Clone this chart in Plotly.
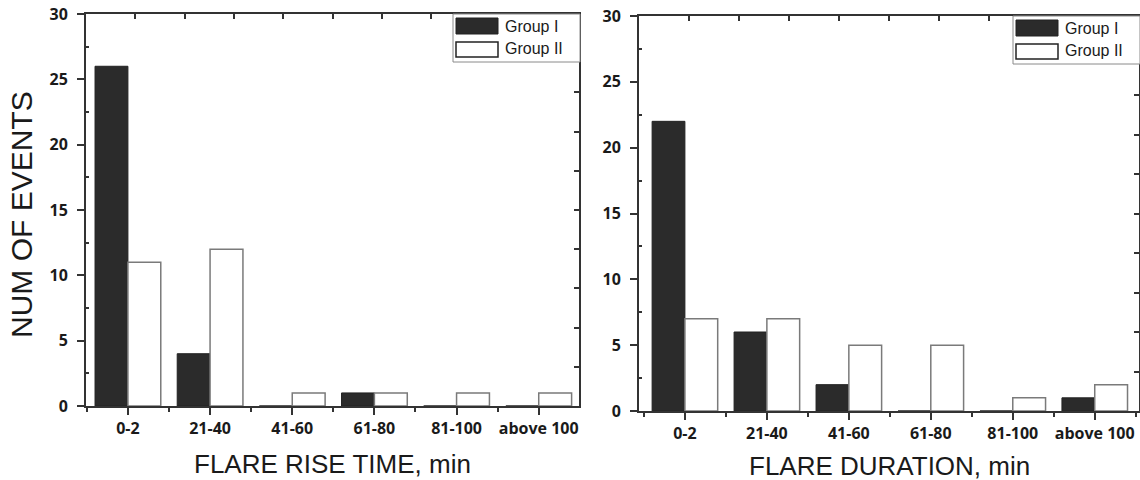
import plotly.graph_objects as go

# ---------------- data ----------------
categories = ["0-2", "21-40", "41-60", "61-80", "81-100", "above 100"]
series_names = ["Group I", "Group II"]
rise_group1 = [26, 4, 0, 1, 0, 0]
rise_group2 = [11, 12, 1, 1, 1, 1]
dur_group1 = [22, 6, 2, 0, 0, 1]
dur_group2 = [7, 7, 5, 5, 1, 2]
y_tick_vals = [0, 5, 10, 15, 20, 25, 30]
x_titles = ["FLARE RISE TIME, min", "FLARE DURATION, min"]
y_title = "NUM OF EVENTS"

# ---------------- layout constants ----------------
W, H = 1140, 480
panels = [(86, 14, 579, 406), (639, 16, 1139, 411)]  # left, top, right, bottom (px)
x_ranges = [[-0.51, 5.49], [-0.56, 5.54]]
DARK = "#2b2b2b"
AXC = "#333333"
TXT = "#1a1a1a"
TICK_FONT = dict(family="Open Sans", size=16, color=TXT, weight=700)
TITLE_FAMILY = "Liberation Sans"

idx = list(range(len(categories)))

fig = go.Figure()
data_sets = [(rise_group1, rise_group2), (dur_group1, dur_group2)]
for p, (g1, g2) in enumerate(data_sets):
    xa = "x" if p == 0 else "x2"
    ya = "y" if p == 0 else "y2"
    fig.add_trace(go.Bar(x=idx, y=g1, name=series_names[0], xaxis=xa, yaxis=ya,
                         offsetgroup="g1", showlegend=False,
                         marker=dict(color=DARK, line=dict(color="#222222", width=1))))
    fig.add_trace(go.Bar(x=idx, y=g2, name=series_names[1], xaxis=xa, yaxis=ya,
                         offsetgroup="g2", showlegend=False,
                         marker=dict(color="white", line=dict(color="#7a7a7a", width=1.5))))
    # empty helper trace so the mirrored frame axes (top / right) get drawn
    fig.add_trace(go.Scatter(x=[None], y=[None], xaxis="x" + str(3 + p), yaxis="y" + str(3 + p),
                             mode="markers", showlegend=False, hoverinfo="skip"))


def px_x(v):
    return v / W


def px_y(v):
    return 1 - v / H


layout = dict(
    template="none",
    width=W, height=H,
    margin=dict(l=0, r=0, t=0, b=0, autoexpand=False),
    paper_bgcolor="white", plot_bgcolor="white",
    barmode="group", bargap=0.2, bargroupgap=0,
    showlegend=False,
)

for p, (l, t, r, b) in enumerate(panels):
    sfx = "" if p == 0 else "2"
    xdom = [px_x(l), px_x(r)]
    ydom = [px_y(b), px_y(t)]
    layout["xaxis" + sfx] = dict(
        domain=xdom, range=x_ranges[p], anchor="y" + sfx, automargin=False,
        tickmode="array", tickvals=idx, ticktext=categories,
        ticks="outside", ticklen=7, tickwidth=1.5, tickcolor=AXC,
        minor=dict(tick0=0.5, dtick=1, ticks="outside", ticklen=4, tickwidth=1.5, tickcolor=AXC),
        showline=True, linecolor=AXC, linewidth=2, mirror=True,
        showgrid=False, zeroline=False, tickfont=TICK_FONT, fixedrange=True,
    )
    layout["yaxis" + sfx] = dict(
        domain=ydom, range=[0, 30], anchor="x" + sfx, automargin=False,
        tickmode="array", tickvals=y_tick_vals, ticklabelstandoff=6,
        ticks="outside", ticklen=7, tickwidth=1.5, tickcolor=AXC,
        minor=dict(tick0=2.5, dtick=5, ticks="inside", ticklen=3, tickwidth=1.5, tickcolor=AXC),
        showline=True, linecolor=AXC, linewidth=2, mirror=True,
        showgrid=False, zeroline=False, tickfont=TICK_FONT, fixedrange=True,
    )
    # mirrored top / right frame axes with their own inward ticks
    osfx = str(3 + p)
    layout["xaxis" + osfx] = dict(
        domain=xdom, range=[0, 10], overlaying="x" + sfx, anchor="y" + osfx, side="top",
        automargin=False, tickmode="linear", tick0=0, dtick=1,
        ticks="inside", ticklen=5, tickwidth=1.5, tickcolor=AXC,
        showticklabels=False, showline=False,
        showgrid=False, zeroline=False, fixedrange=True,
    )
    layout["yaxis" + osfx] = dict(
        domain=ydom, range=[0, 10], overlaying="y" + sfx, anchor="x" + osfx, side="right",
        automargin=False, tickmode="linear", tick0=0, dtick=1,
        ticks="inside", ticklen=5, tickwidth=1.5, tickcolor=AXC,
        showticklabels=False, showline=False,
        showgrid=False, zeroline=False, fixedrange=True,
    )

shapes = []
annotations = []
for p, (l, t, r, b) in enumerate(panels):
    # legend box anchored to the panel's top-right corner
    shapes.append(dict(type="rect", xref="paper", yref="paper",
                       x0=px_x(r - 126), x1=px_x(r + 1), y0=px_y(t + 48), y1=px_y(t),
                       line=dict(color="#8a8a8a", width=1), fillcolor="white", layer="above"))
    shapes.append(dict(type="rect", xref="paper", yref="paper",
                       x0=px_x(r - 123), x1=px_x(r - 81), y0=px_y(t + 20), y1=px_y(t + 4),
                       line=dict(color="#222222", width=1), fillcolor=DARK, layer="above"))
    shapes.append(dict(type="rect", xref="paper", yref="paper",
                       x0=px_x(r - 123), x1=px_x(r - 81), y0=px_y(t + 43), y1=px_y(t + 28),
                       line=dict(color="#222222", width=1.5), fillcolor="white", layer="above"))
    for k, name in enumerate(series_names):
        annotations.append(dict(text=name, xref="paper", yref="paper",
                                x=px_x(r - 76), y=px_y(t + 12 + 23 * k),
                                xanchor="left", yanchor="middle", showarrow=False,
                                font=dict(family=TITLE_FAMILY, size=16, color=TXT)))
    annotations.append(dict(text=x_titles[p], xref="paper", yref="paper",
                            x=px_x((l + r) / 2), y=px_y(464 + 2 * p),
                            xanchor="center", yanchor="middle", showarrow=False,
                            font=dict(family=TITLE_FAMILY, size=26, color=TXT)))

annotations.append(dict(text=y_title, xref="paper", yref="paper",
                        x=px_x(21), y=px_y(215), textangle=-90,
                        xanchor="center", yanchor="middle", showarrow=False,
                        font=dict(family=TITLE_FAMILY, size=30, color=TXT)))

layout["shapes"] = shapes
layout["annotations"] = annotations
fig.update_layout(**layout)

fig.write_html("out.html", config=dict(displayModeBar=False),
               post_script="document.body.style.margin='0px';document.body.style.overflow='hidden';")
